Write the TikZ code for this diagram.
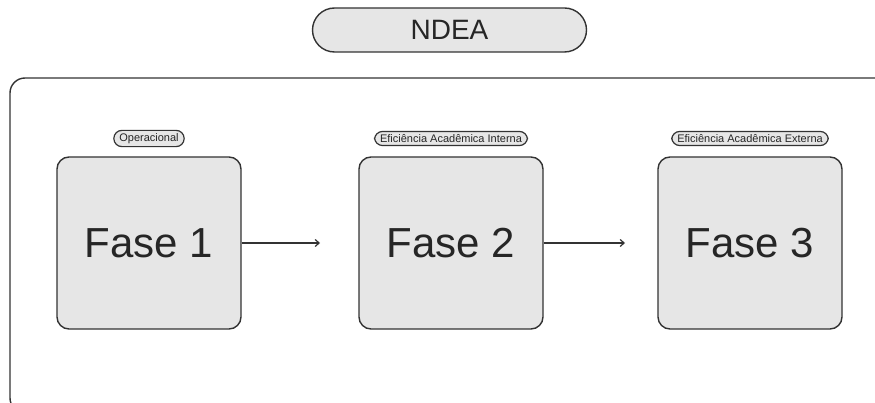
\documentclass[tikz,border=0pt]{standalone}
\usepackage{fontspec}
\setmainfont{Liberation Sans}
\usetikzlibrary{arrows.meta}
\definecolor{boxfill}{HTML}{E6E6E6}
\definecolor{boxline}{HTML}{333333}
\begin{document}
\begin{tikzpicture}[x=1pt,y=-1pt,
  phase/.style={draw=boxline,fill=boxfill,line width=1.4pt,rounded corners=12pt,
    minimum width=184pt,minimum height=172pt,inner sep=0pt,
    font=\fontsize{42}{42}\selectfont,text=black!85},
  pill/.style={draw=boxline,fill=boxfill,line width=1.2pt,rounded corners=8pt,
    inner xsep=5.5pt,inner ysep=3pt,font=\fontsize{11}{12}\selectfont,text=black!85},
  flow/.style={draw=boxline,line width=1.2pt,-{Straight Barb[length=4pt,width=7pt]}}]
\useasboundingbox (0,0) rectangle (875,403);
\begin{scope}
\clip (0,0) rectangle (875,403);
\draw[draw=boxline,line width=1.4pt,rounded corners=15pt] (10,78) rectangle (895,413);
\end{scope}
\node[draw=boxline,fill=boxfill,line width=1.4pt,rounded corners=22pt,
  minimum width=274pt,minimum height=44pt,inner sep=0pt,
  font=\fontsize{28}{28}\selectfont,text=black!85] (ndea) at (449.5,30) {NDEA};
\node[phase] (f1) at (149,243) {Fase 1};
\node[phase] (f2) at (451,243) {Fase 2};
\node[phase] (f3) at (750,243) {Fase 3};
\node[pill] (l1) at (149,138.5) {Operacional};
\node[pill] (l2) at (451,138.5) {Eficiência Acadêmica Interna};
\node[pill] (l3) at (750,138.5) {Eficiência Acadêmica Externa};
\coordinate (a1) at (320,243);
\coordinate (a2) at (625,243);
\draw[flow] (f1.east) -- (a1);
\draw[flow] (f2.east) -- (a2);
\end{tikzpicture}
\end{document}
